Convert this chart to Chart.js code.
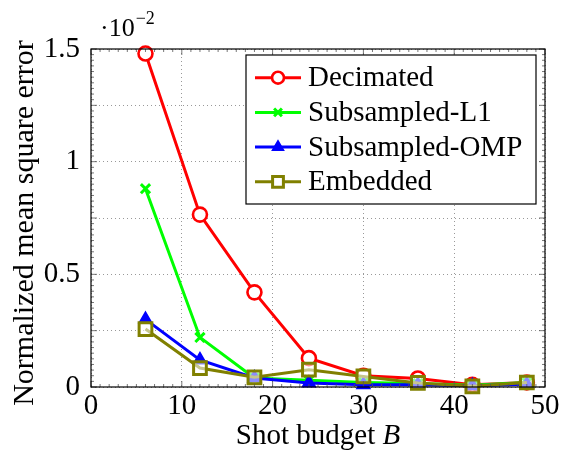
<!DOCTYPE html>
<html>
<head>
<meta charset="utf-8">
<script src="https://cdn.jsdelivr.net/npm/chart.js@4/dist/chart.umd.min.js"></script>
<style>
html,body{margin:0;padding:0;background:#fff;}
#wrap{width:563px;height:450px;position:relative;}
</style>
</head>
<body>
<div id="wrap"><canvas id="c" width="563" height="450"></canvas></div>
<script>
const shots = [6, 12, 18, 24, 30, 36, 42, 48];
const decimated = [1.48, 0.765, 0.42, 0.128, 0.05, 0.038, 0.01, 0.02];
const subsampledL1 = [0.88, 0.22, 0.04, 0.03, 0.02, 0.015, 0.008, 0.02];
const subsampledOMP = [0.30, 0.12, 0.04, 0.018, 0.01, 0.01, 0.005, 0.012];
const embedded = [0.257, 0.084, 0.043, 0.077, 0.047, 0.018, 0.003, 0.02];
const seriesNames = ["Decimated", "Subsampled-L1", "Subsampled-OMP", "Embedded"];
const xTicks = [0, 10, 20, 30, 40, 50];
const yTicks = [0, 0.5, 1, 1.5];

const FONT = "'Liberation Serif', 'DejaVu Serif', serif";
const FS = 29;

function pts(vals){ return shots.map((x,i)=>({x:x,y:vals[i]})); }

const datasets = [
  {label:seriesNames[0], data:pts(decimated), borderColor:'#ff0000', backgroundColor:'#ffffff', pointStyle:'circle', pointRadius:7, pointBorderWidth:2.6, borderWidth:3, order:4},
  {label:seriesNames[1], data:pts(subsampledL1), borderColor:'#00ff00', backgroundColor:'#00ff00', pointStyle:'crossRot', pointRadius:6.5, pointBorderWidth:3, borderWidth:3, order:3},
  {label:seriesNames[2], data:pts(subsampledOMP), borderColor:'#0000ff', backgroundColor:'#0000ff', pointStyle:'triangle', pointRadius:7, pointBorderWidth:2, borderWidth:3, order:2},
  {label:seriesNames[3], data:pts(embedded), borderColor:'#808000', backgroundColor:'rgba(255,255,255,0.55)', pointStyle:'rect', pointRadius:9, pointBorderWidth:3, borderWidth:3, order:1}
];
datasets.forEach(d=>{ d.tension=0; d.pointHoverRadius=d.pointRadius; d.clip=false; });

const framePlugin = {
  id:'frame',
  afterDraw(chart){
    const ctx = chart.ctx, a = chart.chartArea;
    const xs = chart.scales.x, ys = chart.scales.y;
    ctx.save();
    // minor ticks
    ctx.strokeStyle = '#555'; ctx.lineWidth = 0.8;
    ctx.beginPath();
    for(let v=0; v<=50; v+=1){
      const px = xs.getPixelForValue(v);
      const len = (v%10===0)?6:3;
      ctx.moveTo(px, a.bottom); ctx.lineTo(px, a.bottom-len);
      ctx.moveTo(px, a.top); ctx.lineTo(px, a.top+len);
    }
    for(let k=0; k<=60; k++){
      const v = k*0.025;
      const py = ys.getPixelForValue(v);
      const len = (k%10===0)?6:3;
      ctx.moveTo(a.left, py); ctx.lineTo(a.left+len, py);
      ctx.moveTo(a.right, py); ctx.lineTo(a.right-len, py);
    }
    ctx.stroke();
    // frame
    ctx.strokeStyle = '#000'; ctx.lineWidth = 1.2;
    ctx.strokeRect(a.left, a.top, a.right-a.left, a.bottom-a.top);
    ctx.fillStyle = '#000';
    ctx.textBaseline = 'alphabetic';
    // exponent label
    ctx.font = '26px ' + FONT;
    ctx.textAlign = 'left';
    ctx.fillText('\u00B710', 100, 36);
    const w = ctx.measureText('\u00B710').width;
    ctx.font = '18px ' + FONT;
    ctx.fillText('\u22122', 100 + w + 1, 24);
    // y title
    ctx.save();
    ctx.translate(33, 223);
    ctx.rotate(-Math.PI/2);
    ctx.font = '30px ' + FONT;
    ctx.textAlign = 'center';
    ctx.fillText('Normalized mean square error', 0, 0);
    ctx.restore();
    // x title with italic B
    ctx.font = FS + 'px ' + FONT;
    const t1 = 'Shot budget ';
    const w1 = ctx.measureText(t1).width;
    ctx.font = 'italic ' + FS + 'px ' + FONT;
    const w2 = ctx.measureText('B').width;
    const cx = (a.left + a.right)/2;
    const x0 = cx - (w1+w2)/2;
    ctx.font = FS + 'px ' + FONT;
    ctx.fillText(t1, x0, 444);
    ctx.font = 'italic ' + FS + 'px ' + FONT;
    ctx.fillText('B', x0 + w1, 444);
    // legend
    const lx = 246, ly = 55, lw = 290, lh = 149;
    ctx.fillStyle = '#fff';
    ctx.fillRect(lx, ly, lw, lh);
    ctx.strokeStyle = '#000'; ctx.lineWidth = 1.2;
    ctx.strokeRect(lx, ly, lw, lh);
    chart.data.datasets.forEach((d,i)=>{
      const yy = ly + 22.7 + i*34.7;
      ctx.strokeStyle = d.borderColor; ctx.lineWidth = d.borderWidth;
      ctx.beginPath(); ctx.moveTo(lx+9, yy); ctx.lineTo(lx+55, yy); ctx.stroke();
      ctx.fillStyle = d.pointStyle==='circle' || d.pointStyle==='rect' ? '#ffffff' : d.backgroundColor;
      ctx.strokeStyle = d.borderColor; ctx.lineWidth = d.pointBorderWidth;
      Chart.helpers.drawPoint(ctx, {pointStyle:d.pointStyle, radius:d.pointRadius*0.85, borderWidth:d.pointBorderWidth}, lx+32, yy);
      ctx.fillStyle = '#000';
      ctx.font = FS + 'px ' + FONT;
      ctx.textBaseline = 'middle';
      ctx.textAlign = 'left';
      ctx.fillText(d.label, lx+62, yy+1);
      ctx.textBaseline = 'alphabetic';
    });
    ctx.restore();
  }
};

new Chart(document.getElementById('c'), {
  type:'line',
  data:{datasets:datasets},
  options:{
    responsive:false,
    animation:false,
    devicePixelRatio:1,
    layout:{padding:{top:49, right:18, left:0, bottom:0}},
    plugins:{legend:{display:false}, tooltip:{enabled:false}},
    scales:{
      x:{
        type:'linear', min:0, max:50,
        afterBuildTicks(s){ s.ticks = xTicks.map(v=>({value:v})); },
        afterFit(s){ s.height = 63; },
        ticks:{font:{family:FONT, size:FS}, color:'#000', padding:2, maxRotation:0},
        grid:{color:'#999', lineWidth:1, drawTicks:false},
        border:{display:false, dash:[1,3]}
      },
      y:{
        type:'linear', min:0, max:1.5,
        afterBuildTicks(s){ const t=[]; for(let k=0;k<=6;k++) t.push({value:k*0.25}); s.ticks=t; },
        afterFit(s){ s.width = 91; },
        ticks:{font:{family:FONT, size:FS}, color:'#000', padding:11,
          callback:(v)=> (yTicks.some(t=>Math.abs(t-v)<1e-9) ? String(+v.toFixed(2)) : '')},
        grid:{color:'#999', lineWidth:1, drawTicks:false},
        border:{display:false, dash:[1,3]}
      }
    }
  },
  plugins:[framePlugin]
});
</script>
</body>
</html>
